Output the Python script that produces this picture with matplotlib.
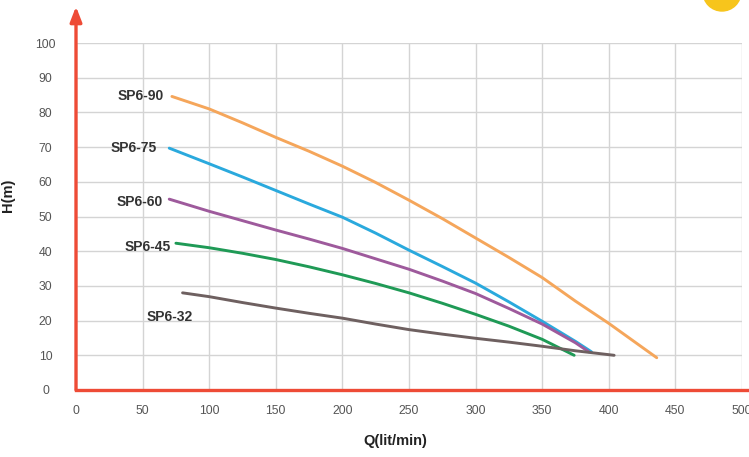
import matplotlib
import matplotlib.pyplot as plt
from matplotlib.patches import Ellipse

matplotlib.use("Agg")

# pump curves: flow Q (lit/min) vs head H (m)
q_sp6_90 = [72, 100, 125, 150, 175, 200, 225, 250, 275, 300, 325, 350, 375, 400, 436]
h_sp6_90 = [84.6, 81.0, 77.0, 72.8, 68.8, 64.5, 59.8, 54.7, 49.4, 43.8, 38.2, 32.4, 25.6, 19.2, 9.3]

q_sp6_75 = [70, 100, 125, 150, 175, 200, 225, 250, 275, 300, 325, 350, 375, 387]
h_sp6_75 = [69.7, 65.2, 61.4, 57.5, 53.6, 49.8, 45.2, 40.3, 35.6, 30.8, 25.4, 19.8, 14.0, 11.0]

q_sp6_60 = [70, 100, 125, 150, 175, 200, 225, 250, 275, 300, 325, 350, 375, 385]
h_sp6_60 = [55.0, 51.5, 48.8, 46.1, 43.5, 40.8, 37.8, 34.8, 31.4, 27.8, 23.5, 19.0, 13.6, 11.0]

q_sp6_45 = [75, 100, 125, 150, 175, 200, 225, 250, 275, 300, 325, 350, 374]
h_sp6_45 = [42.3, 41.0, 39.4, 37.6, 35.5, 33.2, 30.7, 28.0, 25.0, 21.8, 18.4, 14.6, 10.0]

q_sp6_32 = [80, 100, 125, 150, 175, 200, 225, 250, 275, 300, 325, 350, 375, 404]
h_sp6_32 = [28.0, 26.9, 25.2, 23.6, 22.1, 20.7, 19.0, 17.4, 16.1, 14.9, 13.8, 12.6, 11.3, 10.0]

x_ticks = [0, 50, 100, 150, 200, 250, 300, 350, 400, 450, 500]
y_ticks = [0, 10, 20, 30, 40, 50, 60, 70, 80, 90, 100]

series = [
    # name, q, h, colour, label offset (q, h), label alignment
    ("SP6-90", q_sp6_90, h_sp6_90, "#f5a65b", (-6, 0), "right"),
    ("SP6-75", q_sp6_75, h_sp6_75, "#2aa9dd", (-9, 0), "right"),
    ("SP6-60", q_sp6_60, h_sp6_60, "#9e5a9c", (-5, -0.8), "right"),
    ("SP6-45", q_sp6_45, h_sp6_45, "#1f9a56", (-4, -1.1), "right"),
    ("SP6-32", q_sp6_32, h_sp6_32, "#6e6060", (-10, -7), "center"),
]

plt.rcParams["font.family"] = ["Liberation Sans", "DejaVu Sans"]

fig = plt.figure(figsize=(7.49, 4.57), dpi=100)
ax = fig.add_axes([76 / 749, 67 / 457, 666 / 749, 347 / 457])

ax.set_xlim(0, 500)
ax.set_ylim(0, 100)
ax.set_xticks(x_ticks)
ax.set_yticks(y_ticks)
ax.grid(True, color="#d4d4d4", linewidth=1.0)
ax.set_axisbelow(True)
for s in ax.spines.values():
    s.set_visible(False)

ax.tick_params(length=0, colors="#555555", labelsize=8.8)
ax.tick_params(axis="x", pad=11)
ax.tick_params(axis="y", pad=22)
for lbl in ax.get_yticklabels():
    lbl.set_horizontalalignment("center")

for name, q, h, col, off, ha in series:
    ax.plot(q, h, color=col, linewidth=2.1, solid_capstyle="round",
            solid_joinstyle="round", zorder=3)
    ax.text(
        q[0] + off[0],
        h[0] + off[1],
        name,
        ha=ha,
        va="center",
        fontsize=10,
        fontweight="bold",
        color="#333333",
    )

# red axes, arrow on the vertical one
red = "#ee4b36"
ax.plot([0, 1.011], [0, 0], transform=ax.transAxes, color=red,
        linewidth=2.4, clip_on=False, zorder=4)
ax.annotate(
    "",
    xy=(0, 1.105),
    xytext=(0, 0),
    xycoords="axes fraction",
    textcoords="axes fraction",
    arrowprops=dict(arrowstyle="-|>,head_length=0.9,head_width=0.35",
                    color=red, linewidth=2.4, shrinkA=0, shrinkB=0),
    zorder=4,
)

ax.set_xlabel("Q(lit/min)", fontsize=10.5, fontweight="bold", color="#222222")
ax.xaxis.set_label_coords(319 / 666, -44 / 347)
ax.set_ylabel("H(m)", fontsize=10.5, fontweight="bold", color="#222222")
ax.yaxis.set_label_coords(-61 / 666, 195 / 347)

# yellow logo blob in the top-right corner
fig.patches.append(
    Ellipse((722 / 749, 1 + 8 / 457), 38 / 749, 38 / 457,
            transform=fig.transFigure, color="#f7c51c", zorder=0)
)

plt.savefig("out.png", dpi=100)
